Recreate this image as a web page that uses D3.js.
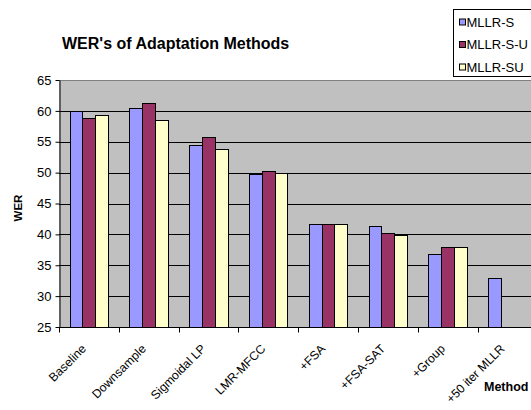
<!DOCTYPE html>
<html><head><meta charset="utf-8">
<script src="https://cdn.jsdelivr.net/npm/d3@7"></script>
<style>body{margin:0;background:#fff;overflow:hidden;} svg{display:block;font-family:Arial,"Liberation Sans",sans-serif;}</style>
</head><body>
<svg id="chart" width="531" height="410"></svg>
<script>
const categories = ["Baseline","Downsample","Sigmoidal LP","LMR-MFCC","+FSA","+FSA-SAT","+Group","+50 iter MLLR"];
const seriesNames = ["MLLR-S","MLLR-S-U","MLLR-SU"];
const mllrS  = [60.0, 60.5, 54.5, 49.8, 41.7, 41.3, 36.9, 32.9];
const mllrSU1 = [58.8, 61.3, 55.7, 50.2, 41.7, 40.2, 38.0, null];
const mllrSU2 = [59.3, 58.6, 53.8, 50.0, 41.7, 39.9, 38.0, null];
const yTicks = [25,30,35,40,45,50,55,60,65];
const colors = ["#9999FF","#993366","#FFFFCC"];

const seriesValues = [mllrS, mllrSU1, mllrSU2];
const svg = d3.select("#chart");
const L = 59, T = 80, B = 327, R = 59 + 8*59.8;

const x0 = d3.scaleBand().domain(categories).range([L, R]).padding(0);
const x1 = d3.scaleBand().domain(seriesNames).range([10.5, 49]).padding(0);
const y = d3.scaleLinear().domain([25,65]).range([B, T]);

// plot background
svg.append("rect").attr("x", L).attr("y", T).attr("width", R-L).attr("height", B-T).attr("fill", "#C0C0C0");

// gridlines
svg.append("g").selectAll("line").data(yTicks.filter(v => v>25 && v<65)).join("line")
  .attr("x1", L).attr("x2", R).attr("y1", d => Math.round(y(d))+0.5).attr("y2", d => Math.round(y(d))+0.5)
  .attr("stroke", "#000").attr("stroke-width", 1);
svg.append("line").attr("x1", L).attr("x2", R).attr("y1", T+0.5).attr("y2", T+0.5).attr("stroke", "#808080");

// bars
const groups = svg.append("g").selectAll("g").data(categories).join("g");
groups.selectAll("rect").data((c, i) => seriesNames.map((s, j) => ({c, s, v: seriesValues[j][i], j})).filter(d => d.v != null))
  .join("rect")
  .attr("x", d => Math.round(x0(d.c) + x1(d.s)) + 0.5)
  .attr("y", d => Math.round(y(d.v)) + 0.5)
  .attr("width", d => Math.round(x0(d.c) + x1(d.s) + x1.bandwidth()) - Math.round(x0(d.c) + x1(d.s)))
  .attr("height", d => B - Math.round(y(d.v)))
  .attr("fill", d => colors[d.j]).attr("stroke", "#000").attr("stroke-width", 1);

// y axis
const yAxis = d3.axisLeft(y).tickValues(yTicks).tickSize(4).tickSizeOuter(0).tickPadding(4);
const gy = svg.append("g").attr("transform", `translate(${L+0.5},0)`).call(yAxis);
gy.select(".domain").attr("stroke", "#000");
gy.selectAll("text").attr("font-size", 13).attr("fill", "#000").attr("font-family", "Arial, 'Liberation Sans', sans-serif");

// x axis
const gx = svg.append("g").attr("transform", `translate(0,${B+0.5})`);
gx.append("line").attr("x1", L).attr("x2", R).attr("stroke", "#000");
gx.selectAll("line.tk").data(d3.range(categories.length+1)).join("line").attr("class","tk")
  .attr("x1", i => Math.round(L + i*x0.bandwidth()) + 0.5).attr("x2", i => Math.round(L + i*x0.bandwidth()) + 0.5)
  .attr("y1", 0).attr("y2", 5).attr("stroke", "#000");
gx.selectAll("text").data(categories).join("text")
  .attr("transform", d => `translate(${x0(d) + x0.bandwidth()/2 - 2},${22}) rotate(-45)`)
  .attr("text-anchor", "end")
  .attr("font-size", 12.2).attr("fill", "#000").text(d => d);

// title
svg.append("text").attr("x", 62).attr("y", 49).attr("font-size", 16).attr("font-weight", "bold").text("WER's of Adaptation Methods");
// axis titles
svg.append("text").attr("transform", `translate(21.5,208) rotate(-90)`).attr("text-anchor", "middle")
  .attr("font-size", 11.5).attr("font-weight", "bold").text("WER");
svg.append("text").attr("x", 484).attr("y", 391).attr("font-size", 12.5).attr("font-weight", "bold").text("Method");

// legend
const lg = svg.append("g").attr("transform", "translate(453.5,9.5)");
lg.append("rect").attr("width", 100).attr("height", 67).attr("fill", "#fff").attr("stroke", "#000");
const li = lg.selectAll("g").data(seriesNames).join("g").attr("transform", (d, i) => `translate(6,${12.5 + i*22.5})`);
li.append("rect").attr("x", 0).attr("y", -3).attr("width", 6).attr("height", 6).attr("fill", (d, i) => colors[i]).attr("stroke", "#000");
li.append("text").attr("x", 7).attr("y", 0).attr("dy", "0.36em").attr("font-size", 13).text(d => d);
</script>
</body></html>
